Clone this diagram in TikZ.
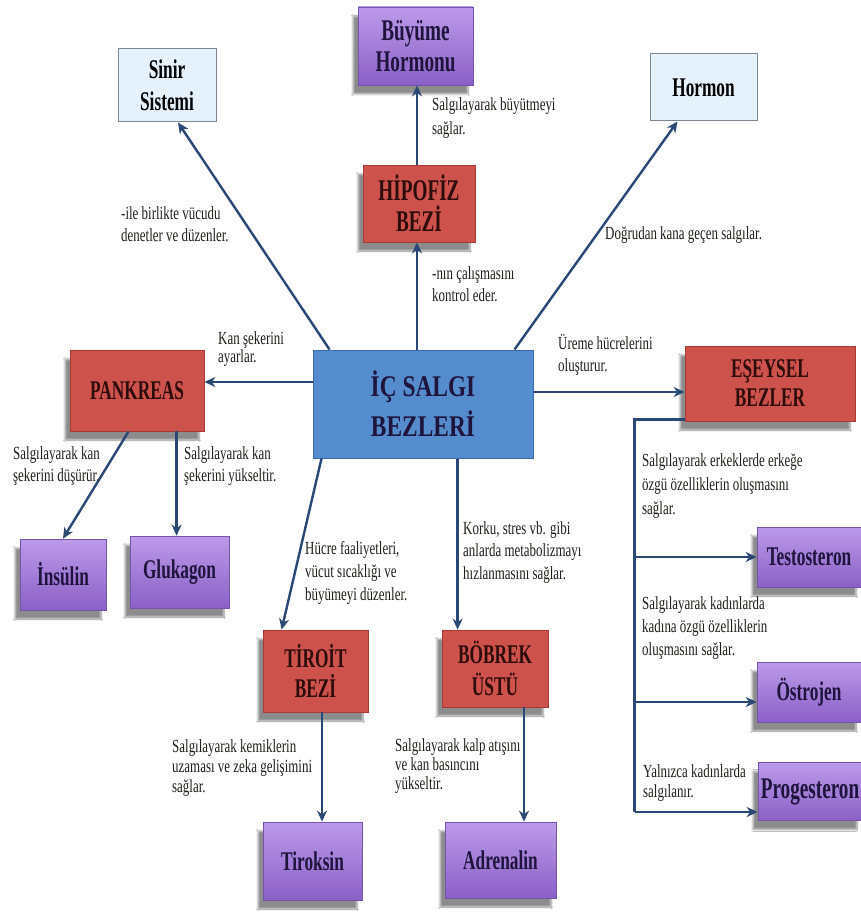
\documentclass[tikz,border=0pt]{standalone}
\usepackage{fontspec}
\setmainfont[FakeStretch=0.7]{Liberation Serif}
\newfontfamily\boxfont[FakeStretch=0.64]{Liberation Serif}
\newfontfamily\cenfont[FakeStretch=0.78]{Liberation Serif}
\usetikzlibrary{arrows.meta,calc,shadows,shadows.blur}
\definecolor{redf}{RGB}{206,82,76}
\definecolor{redd}{RGB}{168,58,54}
\definecolor{purt}{RGB}{188,154,234}
\definecolor{purb}{RGB}{138,96,198}
\definecolor{purd}{RGB}{118,84,172}
\definecolor{bluf}{RGB}{84,140,206}
\definecolor{blud}{RGB}{58,106,168}
\definecolor{lbf}{RGB}{230,242,251}
\definecolor{lbd}{RGB}{125,135,145}
\definecolor{arrc}{RGB}{42,72,118}
\definecolor{txt}{RGB}{35,30,30}
\definecolor{ptxt}{RGB}{30,20,60}
\definecolor{rtxt}{RGB}{45,12,12}
\tikzset{
  box/.style={rectangle, inner sep=1pt, align=center,
    font=\boxfont\fontsize{27}{32}\selectfont\bfseries},
  bigtext/.style={font=\boxfont\fontsize{30}{31}\selectfont\bfseries},
  shad/.style={blur shadow={shadow xshift=-5pt, shadow yshift=-9pt,
    shadow opacity=45, shadow blur steps=8}},
  redbox/.style={box, shad, fill=redf, draw=redd, line width=0.8pt, text=rtxt},
  purbox/.style={box, shad, top color=purt, bottom color=purb, draw=purd,
    line width=0.8pt, text=ptxt},
  lbbox/.style={box, fill=lbf, draw=lbd, line width=1pt, text=black},
  cenbox/.style={box, fill=bluf, draw=blud, line width=1pt, text=ptxt,
    font=\cenfont\fontsize{30}{40}\selectfont\bfseries},
  note/.style={anchor=north west, inner sep=0pt, align=left,
    font=\fontsize{18.5}{22}\selectfont, text=txt},
  arr/.style={draw=arrc, line width=2.4pt, -{Stealth[length=11pt,width=10pt]}},
  ln/.style={draw=arrc, line width=2.4pt},
}
\begin{document}
\begin{tikzpicture}[x=1pt,y=-1pt]
\fill[white] (0,0) rectangle (861,920);
\useasboundingbox (0,0) rectangle (861,920);

% boxes
\node[lbbox, minimum width=98pt, minimum height=73pt] (sin) at (167,85.5) {Sinir\\Sistemi};
\node[purbox, bigtext, minimum width=115pt, minimum height=78pt] (buy) at (415.5,46) {Büyüme\\Hormonu};
\node[redbox, bigtext, minimum width=112pt, minimum height=77pt] (hip) at (419,203.5) {HİPOFİZ\\BEZİ};
\node[lbbox, minimum width=107pt, minimum height=67pt] (hor) at (703.5,87.5) {Hormon};
\node[redbox, minimum width=134pt, minimum height=81pt] (pan) at (137,390.5) {PANKREAS};
\node[cenbox, minimum width=220pt, minimum height=108pt] (cen) at (423,404) {İÇ SALGI\\BEZLERİ};
\node[redbox, font=\boxfont\fontsize{27}{29}\selectfont\bfseries, minimum width=170pt, minimum height=75pt] (ese) at (770,383.5) {EŞEYSEL\\BEZLER};
\node[purbox, minimum width=86pt, minimum height=71pt] (ins) at (63,574.5) {İnsülin};
\node[purbox, minimum width=99pt, minimum height=72pt] (glu) at (179.5,572) {Glukagon};
\node[redbox, font=\boxfont\fontsize{27}{30}\selectfont\bfseries, minimum width=105pt, minimum height=82pt] (tir) at (315.5,671) {TİROİT\\BEZİ};
\node[redbox, minimum width=106pt, minimum height=77pt] (bob) at (495,668.5) {BÖBREK\\ÜSTÜ};
\node[purbox, minimum width=104pt, minimum height=60pt] (tes) at (809,557) {Testosteron};
\node[purbox, minimum width=104pt, minimum height=60pt] (ost) at (809,692) {Östrojen};
\node[purbox, bigtext, minimum width=104pt, minimum height=58pt, inner sep=0pt] (pro) at (810,791.5) {Progesteron};
\node[purbox, minimum width=99pt, minimum height=78pt] (tik) at (312.5,861) {Tiroksin};
\node[purbox, minimum width=111pt, minimum height=76pt] (adr) at (500.5,860) {Adrenalin};

% connectors from centre
\draw[arr] ($(cen.north west)+(17,0)$) -- ($(sin.south)+(11,0)$);
\draw[arr] ($(cen.north west)+(202,0)$) -- ($(hor.south west)+(28,0)$);
\coordinate (h1) at ($(hip.south)+(-2,0)$);
\draw[arr] (h1 |- cen.north) -- (h1);
\draw[arr] (h1 |- hip.north) -- (h1 |- buy.south);
\coordinate (p1) at ($(cen.west)+(0,-22)$);
\draw[arr] (p1) -- (p1 -| pan.east);
\coordinate (e1) at ($(cen.east)+(0,-12)$);
\draw[arr] (e1) -- (e1 -| ese.west);
\draw[arr] ($(cen.south west)+(9,0)$) -- ($(tir.north west)+(19,0)$);
\coordinate (b1) at ($(bob.north west)+(16,0)$);
\draw[arr] (b1 |- cen.south) -- (b1);

% pankreas
\draw[arr] ($(pan.south west)+(59,0)$) -- (ins.north);
\coordinate (g1) at ($(pan.south west)+(107,0)$);
\draw[arr] (g1) -- (g1 |- glu.north);

% tiroit, bobrek
\coordinate (t1) at ($(tir.south)+(6.5,0)$);
\draw[arr] (t1) -- (t1 |- tik.north);
\coordinate (a1) at ($(bob.south)+(29,0)$);
\draw[arr] (a1) -- (a1 |- adr.north);

% eseysel bracket
\coordinate (k0) at ($(ese.south west)+(-50,-2)$);
\coordinate (k1) at (k0 |- tes.west);
\coordinate (k2) at ($(k0 |- ost.west)+(0,10)$);
\coordinate (k3) at ($(k0 |- pro.west)+(0,20.5)$);
\draw[ln] ($(ese.south west)+(0,-2)$) -- (k0) -- (k3);
\draw[arr] (k1) -- (k1 -| tes.west);
\draw[arr] (k2) -- (k2 -| ost.west);
\draw[arr] (k3) -- (k3 -| pro.west);

% notes
\node[note] (n1) at (121,206) {-ile birlikte vücudu\\denetler ve düzenler.};
\node[note, font=\fontsize{18.5}{24}\selectfont] (n2) at (432,97) {Salgılayarak büyütmeyi\\sağlar.};
\node[note] (n3) at (432,266) {-nın çalışmasını\\kontrol eder.};
\node[note] (n4) at (605,226) {Doğrudan kana geçen salgılar.};
\node[note, font=\fontsize{18.5}{18}\selectfont] (n5) at (218,331) {Kan şekerini\\ayarlar.};
\node[note] (n6) at (558,334) {Üreme hücrelerini\\oluşturur.};
\node[note] (n7) at (13,446) {Salgılayarak kan\\şekerini düşürür.};
\node[note] (n8) at (184,446) {Salgılayarak kan\\şekerini yükseltir.};
\node[note, font=\fontsize{18.5}{23}\selectfont] (n9) at (305,541) {Hücre faaliyetleri,\\vücut sıcaklığı ve\\büyümeyi düzenler.};
\node[note, font=\fontsize{18.5}{22.5}\selectfont] (n10) at (463,521) {Korku, stres vb. gibi\\anlarda metabolizmayı\\hızlanmasını sağlar.};
\node[note, font=\fontsize{18.5}{24}\selectfont] (n11) at (642,453) {Salgılayarak erkeklerde erkeğe\\özgü özelliklerin oluşmasını\\sağlar.};
\node[note, font=\fontsize{18.5}{23}\selectfont] (n12) at (642,596) {Salgılayarak kadınlarda\\kadına özgü özelliklerin\\oluşmasını sağlar.};
\node[note, font=\fontsize{18.5}{20}\selectfont] (n13) at (643,764) {Yalnızca kadınlarda\\salgılanır.};
\node[note, font=\fontsize{18.5}{20}\selectfont] (n14) at (172,739) {Salgılayarak kemiklerin\\uzaması ve zeka gelişimini\\sağlar.};
\node[note, font=\fontsize{18.5}{19}\selectfont] (n15) at (395,738) {Salgılayarak kalp atışını\\ve kan basıncını\\yükseltir.};
\end{tikzpicture}
\end{document}
